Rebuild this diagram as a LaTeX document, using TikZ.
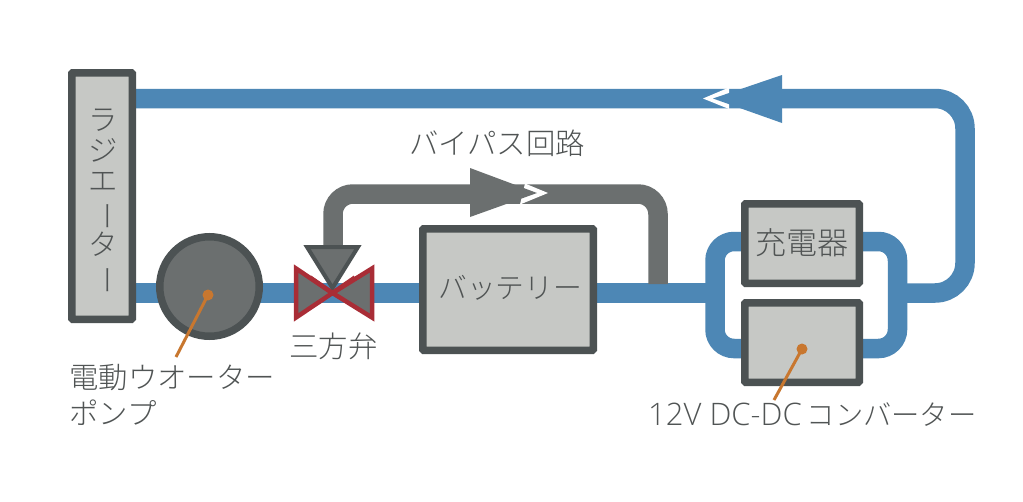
\documentclass[tikz,border=0pt]{standalone}
\usepackage{fontspec}
\setmainfont{Noto Sans CJK JP}[UprightFont=* Light]
\newfontfamily\latinf{Open Sans Light}
\definecolor{pipeblue}{HTML}{4D87B5}
\definecolor{darkedge}{HTML}{4C5253}
\definecolor{lightfill}{HTML}{C6C8C5}
\definecolor{midgray}{HTML}{6B6F6F}
\definecolor{valvered}{HTML}{A92D36}
\definecolor{leader}{HTML}{C8772F}
\definecolor{txt}{HTML}{505454}
\tikzset{
  x=1pt,y=-1pt,
  pipe/.style={draw=pipeblue,line width=19.5pt},
  bypass/.style={draw=midgray,line width=19.5pt},
  unit/.style={draw=darkedge,fill=lightfill,line width=7.5pt,rounded corners=1pt,inner sep=0pt},
  lbl/.style={text=txt,font=\fontsize{29.4}{30}\selectfont,inner sep=0pt,anchor=west},
  lead/.style={draw=leader,line width=3pt},
  leaddot/.style={fill=leader,circle,inner sep=0pt,minimum size=11pt},
}
\begin{document}
\begin{tikzpicture}
\useasboundingbox (0,0) rectangle (1023,501);
\fill[white] (0,0) rectangle (1023,501);
% coordinates
\coordinate (topL) at (132,98.5);
\coordinate (topR) at (965,98.5);
\coordinate (rightB) at (965,293);
\coordinate (junR) at (897.5,293);
\coordinate (mainL) at (132,293);
\coordinate (junL) at (715,293);
\coordinate (byTL) at (333,194);
\coordinate (byTR) at (658,194);
\coordinate (byB) at (658,284);
\coordinate (byV) at (333,262);
\coordinate (loopTL) at (715,241.5);
\coordinate (loopTR) at (897.5,241.5);
\coordinate (loopBL) at (715,348.5);
\coordinate (loopBR) at (897.5,348.5);
% pipes
\draw[pipe,rounded corners=30pt] (topL) -- (topR) -- (rightB) -- (junR);
\draw[pipe] (mainL) -- (junL);
\draw[pipe,rounded corners=19pt] (802,241.5) -- (loopTL) -- (loopBL) -- (802,348.5);
\draw[pipe,rounded corners=19pt] (802,241.5) -- (loopTR) -- (loopBR) -- (802,348.5);
\draw[bypass,rounded corners=20pt] (byV) -- (byTL) -- (byTR) -- (byB);
% arrows
\fill[white] (703,98.5) -- (729,87.5) -- (729,109) -- cycle;
\fill[pipeblue] (713,98.5) -- (782,75) -- (782,123) -- cycle;
\fill[white] (548,193) -- (525,183.5) -- (520,204.5) -- cycle;
\fill[midgray] (537,193) -- (470,168) -- (470,217) -- cycle;
% units
\node[unit,minimum width=60.5pt,minimum height=246.5pt] (rad) at (102,196) {};
\node[unit,minimum width=170.5pt,minimum height=121.5pt] (bat) at (508,289.5) {};
\node[unit,minimum width=114.5pt,minimum height=79.5pt] (chg) at (802,243.5) {};
\node[unit,minimum width=114.5pt,minimum height=79.5pt] (dc) at (802,342.5) {};
\node[circle,draw=darkedge,fill=midgray,line width=7.5pt,minimum size=99.5pt,inner sep=0pt] (pump) at (209.5,286.5) {};
% valve
\coordinate (vc) at (332.5,293);
\draw[draw=valvered,fill=midgray,line width=4.5pt,miter limit=10] (vc) -- (296,268.5) -- (296,317.5) -- cycle;
\draw[draw=valvered,fill=midgray,line width=4.5pt,miter limit=10] (vc) -- (372,268.5) -- (372,317.5) -- cycle;
\draw[draw=darkedge,fill=midgray,line width=4pt,line join=miter] (307,247) -- (358,247) -- (332.5,288) -- cycle;
\draw[valvered,line width=4.5pt] (310,277.5) -- (vc) -- (355,277.5);
% leaders
\node[leaddot] (pdot) at (208,295) {};
\coordinate (pend) at (176,357);
\draw[lead] (pdot.center) -- (pend);
\node[leaddot] (ddot) at (802,349) {};
\coordinate (dend) at (774,400);
\draw[lead] (ddot.center) -- (dend);
% labels
\node[lbl] (tby) at (409,143) {バイパス回路};
\node[lbl,font=\fontsize{28.8}{30}\selectfont] (tbat) at (438,288) {バッテリー};
\node[lbl,font=\fontsize{31}{30}\selectfont] (tchg) at (755,243) {充電器};
\node[lbl] (tval) at (289,346) {三方弁};
\node[lbl] (tp1) at (69,378) {電動ウオーター};
\node[lbl] (tp2) at (69,413) {ポンプ};
\node[lbl] (tdc) at (648,415) {{\fontsize{31}{30}\latinf 12V DC-DC}\hspace{5pt}{\fontsize{28.3}{30}\selectfont コンバーター}};
\node[lbl,anchor=center,align=center,font=\fontsize{29.4}{30.7}\selectfont] (trad) at (103,202) {ラ\\ジ\\エ\\\rotatebox[origin=c]{-90}{ー}\\タ\\\rotatebox[origin=c]{-90}{ー}};
\end{tikzpicture}
\end{document}
